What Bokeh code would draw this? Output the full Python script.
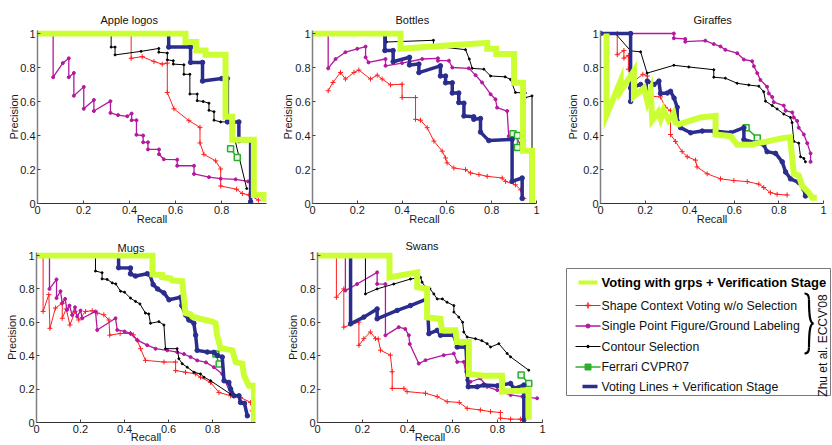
import math
from bokeh.plotting import figure
from bokeh.layouts import row, column
from bokeh.models import Range1d, FixedTicker
from bokeh.core.properties import value
from bokeh.embed import file_html
from bokeh.resources import INLINE

FONT = "Liberation Sans"
TICKS = [0, 0.2, 0.4, 0.6, 0.8, 1]
TICK_LABELS = ["0", "0.2", "0.4", "0.6", "0.8", "1"]
TITLES = ["Apple logos", "Bottles", "Giraffes", "Mugs", "Swans"]
SERIES = ["Voting with grps + Verification Stage",
          "Shape Context Voting w/o Selection",
          "Single Point Figure/Ground Labeling",
          "Contour Selection",
          "Ferrari CVPR07",
          "Voting Lines + Verification Stage"]
CITATION = "Zhu et al. ECCV'08"

YELLOW = "#ccff33"
RED = "#ff1f1f"
MAGENTA = "#b3189e"
BLACK = "#000000"
GREEN = "#2cae2c"
BLUE = "#2b2d8e"

# ---------------- Apple logos (recall, precision) ----------------
APPLE_GRPS = [(0, 1), (0.643, 1), (0.643, 0.95), (0.69, 0.95), (0.69, 0.9), (0.73, 0.9), (0.73, 0.875),
              (0.817, 0.875), (0.817, 0.51), (0.846, 0.51), (0.846, 0.375), (0.94, 0.375), (0.94, 0.05),
              (0.984, 0.05), (0.984, 0.01)]
APPLE_SC = [(0, 1), (0.407, 1), (0.407, 0.854), (0.455, 0.864), (0.506, 0.835), (0.542, 0.82), (0.564, 0.826),
            (0.564, 0.653), (0.593, 0.557), (0.658, 0.487), (0.706, 0.448), (0.706, 0.356), (0.723, 0.289),
            (0.774, 0.251), (0.796, 0.203), (0.796, 0.103), (0.865, 0.084), (0.89, 0.059), (0.919, 0.05),
            (0.96, 0.02)]
APPLE_SP = [(0, 1), (0.068, 1), (0.068, 0.743), (0.11, 0.826), (0.136, 0.854), (0.136, 0.743), (0.158, 0.768),
            (0.158, 0.634), (0.201, 0.686), (0.201, 0.557), (0.245, 0.609), (0.245, 0.544), (0.317, 0.602),
            (0.317, 0.533), (0.35, 0.52), (0.39, 0.513), (0.409, 0.529), (0.409, 0.49), (0.43, 0.49),
            (0.43, 0.404), (0.459, 0.4), (0.459, 0.36), (0.48, 0.36), (0.48, 0.318), (0.528, 0.318),
            (0.528, 0.29), (0.549, 0.26), (0.607, 0.258), (0.607, 0.222), (0.68, 0.222), (0.68, 0.174),
            (0.745, 0.155), (0.796, 0.146), (0.861, 0.142), (0.915, 0.13)]
APPLE_CS = [(0, 1), (0.32, 1), (0.32, 0.92), (0.337, 0.92), (0.337, 0.874), (0.45, 0.895), (0.527, 0.912),
            (0.527, 0.89), (0.564, 0.885), (0.564, 0.845), (0.59, 0.84), (0.59, 0.82), (0.636, 0.816),
            (0.636, 0.76), (0.662, 0.76), (0.662, 0.644), (0.694, 0.644), (0.694, 0.605), (0.72, 0.6),
            (0.745, 0.59), (0.745, 0.548), (0.767, 0.54), (0.767, 0.49), (0.796, 0.48), (0.839, 0.48),
            (0.909, 0.088)]
APPLE_FERRARI = [(0.839, 0.322), (0.868, 0.27)]
APPLE_VL = [(0, 1), (0.57, 1), (0.57, 0.92), (0.665, 0.92), (0.665, 0.83), (0.717, 0.83), (0.717, 0.72),
            (0.80, 0.735), (0.825, 0.735), (0.825, 0.48), (0.875, 0.48), (0.875, 0.37), (0.926, 0.37),
            (0.926, 0.01)]

# ---------------- Bottles ----------------
BOTTLES_GRPS = [(0, 1), (0.393, 1), (0.393, 0.91), (0.6, 0.93), (0.78, 0.945), (0.78, 0.91), (0.82, 0.91),
                (0.82, 0.88), (0.9, 0.88), (0.9, 0.71), (0.94, 0.71), (0.94, 0.31), (0.98, 0.31), (0.98, 0.0)]
BOTTLES_SC = [(0.07, 0.663), (0.091, 0.712), (0.125, 0.771), (0.147, 0.732), (0.185, 0.771), (0.207, 0.785),
              (0.259, 0.732), (0.289, 0.755), (0.311, 0.732), (0.348, 0.698), (0.4, 0.702), (0.4, 0.623),
              (0.46, 0.623), (0.46, 0.495), (0.482, 0.49), (0.512, 0.446), (0.542, 0.367), (0.579, 0.308),
              (0.594, 0.268), (0.601, 0.239), (0.631, 0.209), (0.683, 0.199), (0.705, 0.18), (0.743, 0.17),
              (0.78, 0.16), (0.847, 0.15), (0.862, 0.13), (0.906, 0.11), (0.929, 0.08), (0.943, 0.03)]
BOTTLES_SP = [(0, 1), (0.07, 1), (0.07, 0.795), (0.103, 0.85), (0.147, 0.89), (0.2, 0.91), (0.237, 0.923),
              (0.237, 0.86), (0.25, 0.83), (0.326, 0.85), (0.326, 0.81), (0.4, 0.826), (0.49, 0.85),
              (0.56, 0.854), (0.56, 0.84), (0.609, 0.84), (0.624, 0.8), (0.698, 0.795), (0.728, 0.755),
              (0.757, 0.712), (0.795, 0.643), (0.817, 0.613), (0.824, 0.564), (0.869, 0.544), (0.876, 0.396),
              (0.906, 0.396), (0.943, 0.317), (0.98, 0.308)]
BOTTLES_CS = [(0, 1), (0.33, 1), (0.33, 0.95), (0.54, 0.96), (0.54, 0.93), (0.58, 0.92), (0.683, 0.905),
              (0.7, 0.85), (0.713, 0.795), (0.765, 0.79), (0.795, 0.75), (0.86, 0.745), (0.884, 0.73),
              (0.906, 0.653), (0.95, 0.65), (0.95, 0.623), (0.98, 0.633), (0.98, 0.3)]
BOTTLES_FERRARI = [(0.895, 0.41), (0.915, 0.40), (0.915, 0.33)]
BOTTLES_VL = [(0, 1), (0.323, 1), (0.323, 0.9), (0.36, 0.9), (0.36, 0.834), (0.433, 0.86), (0.433, 0.815),
              (0.475, 0.82), (0.475, 0.77), (0.571, 0.81), (0.571, 0.75), (0.594, 0.75), (0.594, 0.71),
              (0.624, 0.71), (0.624, 0.65), (0.653, 0.65), (0.653, 0.594), (0.676, 0.59), (0.676, 0.515),
              (0.72, 0.51), (0.72, 0.495), (0.75, 0.5), (0.75, 0.42), (0.787, 0.37), (0.891, 0.377),
              (0.891, 0.13), (0.936, 0.15), (0.936, 0.03)]

# ---------------- Giraffes ----------------
GIRAFFES_GRPS = [(0.027, 1), (0.027, 0.52), (0.09, 0.72), (0.09, 0.66), (0.15, 0.78), (0.15, 0.63),
                 (0.195, 0.68), (0.21, 0.6), (0.225, 0.66), (0.232, 0.49), (0.26, 0.54), (0.27, 0.50),
                 (0.283, 0.55), (0.305, 0.49), (0.327, 0.53), (0.336, 0.475), (0.351, 0.466), (0.448, 0.506),
                 (0.516, 0.516), (0.516, 0.406), (0.583, 0.396), (0.613, 0.345), (0.673, 0.345),
                 (0.822, 0.386), (0.85, 0.39), (0.867, 0.175), (0.889, 0.165), (0.904, 0.104), (0.934, 0.064),
                 (0.949, 0.034), (0.97, 0.034)]
GIRAFFES_SC = [(0.075, 1), (0.075, 0.875), (0.105, 0.9), (0.105, 0.855), (0.125, 0.87), (0.125, 0.79),
               (0.15, 0.72), (0.19, 0.76), (0.21, 0.75), (0.21, 0.67), (0.224, 0.66), (0.235, 0.63),
               (0.269, 0.627), (0.291, 0.566), (0.314, 0.546), (0.314, 0.406), (0.336, 0.365), (0.366, 0.305),
               (0.389, 0.275), (0.426, 0.255), (0.433, 0.215), (0.478, 0.175), (0.538, 0.145), (0.598, 0.135),
               (0.658, 0.129), (0.71, 0.114), (0.732, 0.094), (0.762, 0.064), (0.792, 0.054), (0.837, 0.05)]
GIRAFFES_SP = [(0, 1), (0.329, 1), (0.329, 0.972), (0.38, 0.968), (0.38, 0.952), (0.47, 0.958), (0.508, 0.938),
               (0.538, 0.924), (0.56, 0.904), (0.613, 0.884), (0.643, 0.847), (0.68, 0.837), (0.688, 0.807),
               (0.703, 0.767), (0.717, 0.727), (0.747, 0.687), (0.755, 0.647), (0.77, 0.627), (0.777, 0.596),
               (0.822, 0.576), (0.83, 0.546), (0.86, 0.536), (0.867, 0.506), (0.882, 0.486), (0.889, 0.446),
               (0.912, 0.406), (0.927, 0.355), (0.942, 0.295), (0.942, 0.245)]
GIRAFFES_CS = [(0, 1), (0.067, 1), (0.135, 0.898), (0.18, 0.892), (0.209, 0.767), (0.329, 0.813),
               (0.396, 0.803), (0.508, 0.787), (0.508, 0.743), (0.56, 0.737), (0.613, 0.707), (0.665, 0.697),
               (0.71, 0.69), (0.732, 0.657), (0.74, 0.602), (0.77, 0.576), (0.792, 0.556), (0.822, 0.526),
               (0.852, 0.506), (0.859, 0.476), (0.867, 0.365), (0.889, 0.355), (0.897, 0.275), (0.912, 0.265),
               (0.919, 0.245)]
GIRAFFES_FERRARI = [(0.653, 0.446), (0.703, 0.386)]
GIRAFFES_VL = [(0, 1), (0.135, 1), (0.135, 0.6), (0.135, 0.68), (0.18, 0.70), (0.2, 0.67), (0.21, 0.72),
               (0.24, 0.70), (0.262, 0.72), (0.269, 0.647), (0.30, 0.65), (0.314, 0.66), (0.33, 0.62),
               (0.344, 0.566), (0.344, 0.486), (0.359, 0.446), (0.404, 0.416), (0.456, 0.426), (0.508, 0.426),
               (0.583, 0.416), (0.643, 0.446), (0.643, 0.376), (0.703, 0.355), (0.732, 0.345), (0.747, 0.305),
               (0.785, 0.295), (0.815, 0.245), (0.83, 0.185), (0.852, 0.145), (0.889, 0.124), (0.912, 0.084),
               (0.919, 0.044)]

# ---------------- Mugs ----------------
MUGS_GRPS = [(0, 1), (0.527, 1), (0.527, 0.887), (0.571, 0.883), (0.571, 0.87), (0.609, 0.863), (0.617, 0.851),
             (0.662, 0.846), (0.67, 0.745), (0.677, 0.655), (0.7, 0.648), (0.708, 0.634), (0.753, 0.618),
             (0.798, 0.604), (0.814, 0.594), (0.82, 0.525), (0.836, 0.446), (0.867, 0.438), (0.89, 0.432),
             (0.905, 0.362), (0.935, 0.352), (0.943, 0.281), (0.965, 0.22), (0.988, 0.22), (0.988, 0)]
MUGS_SC = [(0, 1), (0.03, 1), (0.03, 0.665), (0.056, 0.766), (0.061, 0.564), (0.086, 0.685), (0.117, 0.715),
           (0.117, 0.624), (0.135, 0.68), (0.152, 0.584), (0.175, 0.665), (0.192, 0.614), (0.223, 0.665),
           (0.253, 0.669), (0.276, 0.655), (0.306, 0.645), (0.329, 0.614), (0.333, 0.523), (0.38, 0.533),
           (0.427, 0.533), (0.44, 0.525), (0.458, 0.493), (0.473, 0.442), (0.495, 0.372), (0.579, 0.362),
           (0.632, 0.362), (0.632, 0.311), (0.677, 0.301), (0.723, 0.291), (0.745, 0.271), (0.791, 0.24),
           (0.829, 0.18), (0.882, 0.16), (0.927, 0.15), (0.973, 0.12), (0.98, 0.07)]
MUGS_SP = [(0, 1), (0.059, 1), (0.059, 0.80), (0.091, 0.857), (0.091, 0.745), (0.109, 0.786), (0.117, 0.715),
           (0.13, 0.74), (0.139, 0.675), (0.15, 0.70), (0.162, 0.644), (0.175, 0.69), (0.185, 0.634),
           (0.20, 0.67), (0.208, 0.624), (0.268, 0.665), (0.276, 0.554), (0.359, 0.624), (0.367, 0.554),
           (0.40, 0.545), (0.427, 0.533), (0.458, 0.493), (0.503, 0.463), (0.541, 0.442), (0.594, 0.432),
           (0.639, 0.422), (0.67, 0.41), (0.70, 0.392), (0.73, 0.372), (0.77, 0.36), (0.806, 0.331),
           (0.844, 0.291), (0.882, 0.17)]
MUGS_CS = [(0, 1), (0.268, 1), (0.268, 0.907), (0.298, 0.897), (0.298, 0.86), (0.321, 0.857), (0.344, 0.836),
           (0.36, 0.83), (0.382, 0.786), (0.40, 0.78), (0.427, 0.745), (0.45, 0.725), (0.47, 0.71),
           (0.495, 0.655), (0.51, 0.65), (0.518, 0.594), (0.556, 0.604), (0.579, 0.584), (0.586, 0.442),
           (0.639, 0.442), (0.647, 0.382), (0.662, 0.352), (0.685, 0.331), (0.715, 0.301), (0.745, 0.291),
           (0.761, 0.271), (0.791, 0.25), (0.882, 0.17)]
MUGS_FERRARI = [(0.815, 0.41), (0.83, 0.35)]
MUGS_VL = [(0, 1), (0.373, 1), (0.373, 0.927), (0.427, 0.925), (0.427, 0.89), (0.45, 0.877), (0.503, 0.891),
           (0.515, 0.885), (0.53, 0.826), (0.55, 0.80), (0.579, 0.776), (0.602, 0.735), (0.655, 0.75),
           (0.66, 0.70), (0.677, 0.644), (0.692, 0.614), (0.715, 0.594), (0.723, 0.523), (0.73, 0.432),
           (0.776, 0.422), (0.806, 0.42), (0.821, 0.402), (0.844, 0.392), (0.852, 0.25), (0.874, 0.24),
           (0.882, 0.2), (0.897, 0.16), (0.92, 0.16), (0.927, 0.12), (0.945, 0.115), (0.958, 0.04)]

# ---------------- Swans ----------------
SWANS_GRPS = [(0, 1), (0.32, 1), (0.32, 0.869), (0.443, 0.899), (0.443, 0.81), (0.487, 0.80), (0.487, 0.63),
              (0.547, 0.62), (0.553, 0.552), (0.613, 0.552), (0.62, 0.482), (0.673, 0.482), (0.673, 0.29),
              (0.74, 0.28), (0.82, 0.28), (0.82, 0.185), (0.9, 0.19), (0.939, 0.194), (0.939, 0.016)]
SWANS_SC = [(0, 1), (0.084, 1), (0.084, 0.75), (0.117, 0.80), (0.117, 0.571), (0.184, 0.601), (0.184, 0.462),
            (0.206, 0.502), (0.235, 0.542), (0.258, 0.502), (0.27, 0.5), (0.28, 0.433), (0.324, 0.403),
            (0.332, 0.304), (0.332, 0.204), (0.384, 0.204), (0.398, 0.185), (0.48, 0.175), (0.532, 0.155),
            (0.576, 0.125), (0.63, 0.12), (0.665, 0.085), (0.724, 0.075), (0.769, 0.065), (0.813, 0.06),
            (0.813, 0.026), (0.858, 0.02), (0.902, 0.02)]
SWANS_SP = [(0, 1), (0.124, 1), (0.124, 0.79), (0.176, 0.829), (0.265, 0.899), (0.265, 0.83), (0.302, 0.829),
            (0.302, 0.522), (0.361, 0.571), (0.39, 0.56), (0.406, 0.522), (0.41, 0.47), (0.45, 0.353),
            (0.48, 0.373), (0.561, 0.403), (0.606, 0.413), (0.621, 0.363), (0.65, 0.363), (0.665, 0.254),
            (0.68, 0.244), (0.724, 0.264), (0.754, 0.214), (0.799, 0.194), (0.858, 0.165), (0.91, 0.155),
            (0.976, 0.145)]
SWANS_CS = [(0, 1), (0.213, 1), (0.213, 0.77), (0.265, 0.80), (0.339, 0.829), (0.413, 0.859), (0.458, 0.869),
            (0.465, 0.84), (0.48, 0.81), (0.5, 0.8), (0.517, 0.77), (0.532, 0.74), (0.555, 0.74), (0.576, 0.72),
            (0.606, 0.70), (0.606, 0.661), (0.628, 0.631), (0.645, 0.6), (0.65, 0.542), (0.665, 0.512),
            (0.702, 0.502), (0.73, 0.49), (0.754, 0.472), (0.769, 0.452), (0.806, 0.472), (0.843, 0.413),
            (0.858, 0.393), (0.939, 0.313)]
SWANS_FERRARI = [(0.905, 0.284), (0.939, 0.234)]
SWANS_VL = [(0, 1), (0.147, 1), (0.147, 0.591), (0.206, 0.631), (0.265, 0.68), (0.265, 0.621), (0.354, 0.671),
            (0.413, 0.70), (0.487, 0.74), (0.495, 0.532), (0.532, 0.552), (0.547, 0.522), (0.606, 0.522),
            (0.621, 0.452), (0.66, 0.45), (0.665, 0.304), (0.67, 0.214), (0.71, 0.214), (0.739, 0.224),
            (0.80, 0.22), (0.858, 0.234), (0.873, 0.204), (0.917, 0.224), (0.917, 0.016)]


def xy(pts):
    return [a for a, b in pts], [b for a, b in pts]


def draw_series(p, grps, sc, sp, cs, fer, vl):
    x, y = xy(sc)
    p.line(x, y, line_color=RED, line_width=1)
    p.scatter(x, y, marker="cross", size=5, line_color=RED, line_width=1)
    x, y = xy(sp)
    p.line(x, y, line_color=MAGENTA, line_width=1.3)
    p.scatter(x, y, marker="circle", size=3, line_color=MAGENTA, fill_color=MAGENTA)
    x, y = xy(cs)
    p.line(x, y, line_color=BLACK, line_width=1)
    p.scatter(x, y, marker="circle", size=2, line_color=BLACK, fill_color=BLACK)
    x, y = xy(fer)
    p.line(x, y, line_color=GREEN, line_width=1.5)
    p.scatter(x, y, marker="square", size=6, line_color=GREEN, fill_color="#e8f8e8", line_width=1.5)
    x, y = xy(vl)
    p.line(x, y, line_color=BLUE, line_width=3.5)
    p.scatter(x, y, marker="circle", size=4.5, line_color=BLUE, fill_color=BLUE)
    x, y = xy(grps)
    p.line(x, y, line_color=YELLOW, line_width=6, line_join="miter")


# Rows align plot frames, so every figure in a row shares top/bottom borders.
ROW1_H, ROW1_TOP, ROW1_BOT, ROW1_UNIT = 232, 30, 29, 170
ROW2_H, ROW2_TOP, ROW2_BOT, ROW2_UNIT = 213, 20, 23, 167


def panel(title, data, width, height, left, right, top, bottom, unit, xmax,
          t_off, t_stand, xls, yls):
    fh = height - top - bottom
    p = figure(width=width, height=height,
               x_range=Range1d(0, xmax), y_range=Range1d(0, fh / unit),
               output_backend="svg", toolbar_location=None,
               min_border_left=left, min_border_right=right,
               min_border_top=top, min_border_bottom=bottom)
    p.title.text = title
    p.title.align = "left"
    p.title.offset = t_off
    p.title.standoff = t_stand
    p.title.text_font = FONT
    p.title.text_font_size = "11px"
    p.title.text_font_style = "normal"
    p.title.text_color = "#111111"
    p.outline_line_color = None
    p.grid.visible = False
    p.background_fill_color = "white"
    for ax in (p.xaxis[0], p.yaxis[0]):
        ax.ticker = FixedTicker(ticks=TICKS)
        ax.major_label_overrides = dict(zip(TICKS, TICK_LABELS))
        ax.major_tick_in = 3
        ax.major_tick_out = 0
        ax.major_tick_line_color = "#444444"
        ax.minor_tick_line_color = None
        ax.major_label_standoff = 2
        ax.major_label_text_font = FONT
        ax.major_label_text_font_size = "11px"
        ax.major_label_text_color = "#1a1a1a"
        ax.axis_label_text_font = FONT
        ax.axis_label_text_font_size = "11px"
        ax.axis_label_text_font_style = "normal"
        ax.axis_label_text_color = "#1a1a1a"
    p.xaxis.axis_label = "Recall"
    p.yaxis.axis_label = "Precision"
    p.xaxis.axis_label_standoff = xls
    p.yaxis.axis_label_standoff = yls
    p.xaxis.axis_line_color = "#333333"
    p.yaxis.axis_line_color = "#808080"
    p.yaxis.axis_line_width = 1.5
    draw_series(p, *data)
    return p


pa = panel(TITLES[0], (APPLE_GRPS, APPLE_SC, APPLE_SP, APPLE_CS, APPLE_FERRARI, APPLE_VL),
           279, ROW1_H, 37, 13, ROW1_TOP, ROW1_BOT, ROW1_UNIT, 0.995, 63, 10, -4, -3)
pb = panel(TITLES[1], (BOTTLES_GRPS, BOTTLES_SC, BOTTLES_SP, BOTTLES_CS, BOTTLES_FERRARI, BOTTLES_VL),
           281, ROW1_H, 33, 24, ROW1_TOP, ROW1_BOT, ROW1_UNIT, 1.0, 83, 10, -4, -2)
pc = panel(TITLES[2], (GIRAFFES_GRPS, GIRAFFES_SC, GIRAFFES_SP, GIRAFFES_CS, GIRAFFES_FERRARI, GIRAFFES_VL),
           272, ROW1_H, 40, 9, ROW1_TOP, ROW1_BOT, ROW1_UNIT, 1.0, 93, 10, -4, 1)
pd = panel(TITLES[3], (MUGS_GRPS, MUGS_SC, MUGS_SP, MUGS_CS, MUGS_FERRARI, MUGS_VL),
           279, ROW2_H, 36, 24, ROW2_TOP, ROW2_BOT, ROW2_UNIT, 0.995, 81, -2, -5, -2)
pe = panel(TITLES[4], (SWANS_GRPS, SWANS_SC, SWANS_SP, SWANS_CS, SWANS_FERRARI, SWANS_VL),
           281, ROW2_H, 38, 18, ROW2_TOP, ROW2_BOT, ROW2_UNIT, 1.0, 88, 2, -5, -2)

# ---------------- Legend panel (pixel units; y measured downward from figure top) ----------------
LW, LH = 272, ROW2_H
lg = figure(width=LW, height=LH, x_range=Range1d(0, LW), y_range=Range1d(ROW2_BOT, LH - ROW2_TOP),
            output_backend="svg", toolbar_location=None,
            min_border_left=0, min_border_right=0, min_border_top=ROW2_TOP, min_border_bottom=ROW2_BOT)
lg.axis.visible = False
lg.grid.visible = False
lg.outline_line_color = None


def Y(yd):
    return LH - yd


lg.quad(left=[6], right=[270], top=[Y(36)], bottom=[Y(163)], fill_color=None,
        line_color="#7a7a7a", line_width=1)
rows_y = [50, 73, 93.5, 114, 134.5, 154]
lg.line([18, 37], [Y(rows_y[0])] * 2, line_color=YELLOW, line_width=4)
lg.line([15, 40], [Y(rows_y[1])] * 2, line_color=RED, line_width=1.2)
lg.scatter([27.5], [Y(rows_y[1])], marker="cross", size=6, line_color=RED, line_width=1.5)
lg.line([15, 40], [Y(rows_y[2])] * 2, line_color=MAGENTA, line_width=1.3)
lg.scatter([27.5], [Y(rows_y[2])], marker="circle", size=4, line_color=MAGENTA, fill_color=MAGENTA)
lg.line([15, 40], [Y(rows_y[3])] * 2, line_color=BLACK, line_width=1)
lg.scatter([27.5], [Y(rows_y[3])], marker="circle", size=2.5, line_color=BLACK, fill_color=BLACK)
lg.line([15, 40], [Y(rows_y[4])] * 2, line_color=GREEN, line_width=1.5)
lg.scatter([27.5], [Y(rows_y[4])], marker="square", size=6, line_color=GREEN, fill_color=GREEN)
lg.line([22, 37], [Y(rows_y[5])] * 2, line_color=BLUE, line_width=3.5)

lg.text(x=[41], y=[Y(rows_y[0])], text=[SERIES[0]], text_font=value(FONT), text_font_size="13px",
        text_font_style="bold", text_baseline="middle", text_color="#000000")
lg.text(x=[41] * 5, y=[Y(v) for v in rows_y[1:]], text=SERIES[1:], text_font=value(FONT),
        text_font_size="12.3px", text_baseline="middle", text_color="#111111")

# curly brace grouping the three Zhu et al. entries
lg.bezier(x0=[244, 248.5, 253, 248.5], y0=[Y(61), Y(67), Y(91), Y(115)],
          x1=[248.5, 253, 248.5, 244], y1=[Y(67), Y(91), Y(115), Y(121)],
          cx0=[247, 248.5, 250, 248.5], cy0=[Y(61), Y(86), Y(91), Y(119)],
          cx1=[248.5, 250, 248.5, 247], cy1=[Y(63), Y(91), Y(96), Y(121)],
          line_color="#000000", line_width=2.2)
lg.text(x=[262], y=[Y(113)], text=[CITATION], angle=math.pi / 2, text_font=value(FONT),
        text_font_size="12px", text_align="center", text_baseline="middle", text_color="#111111")

layout = column(row(pa, pb, pc), row(pd, pe, lg))
open("out.html", "w").write(file_html(layout, INLINE))
